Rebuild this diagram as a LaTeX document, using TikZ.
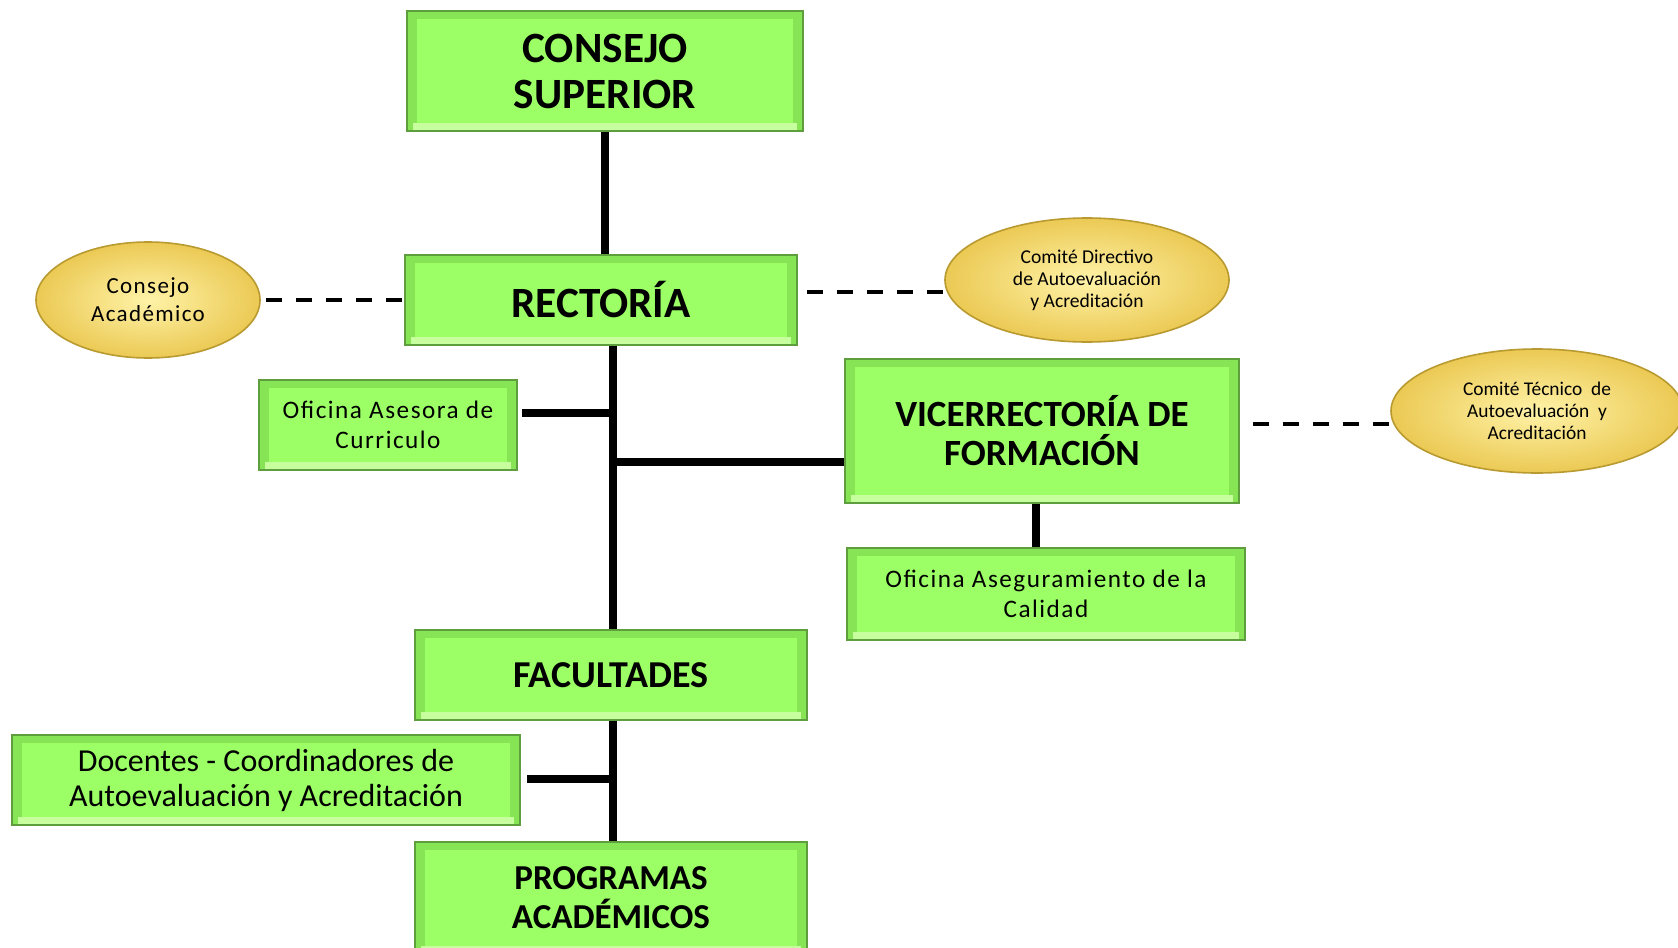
\documentclass[tikz,border=0pt]{standalone}
\usepackage{fontspec}
\setmainfont{Carlito}
\newfontfamily\spaced[LetterSpace=6]{Carlito}
\usetikzlibrary{shapes.geometric}
\definecolor{gin}{HTML}{9CFF66}
\definecolor{gedge}{HTML}{86E455}
\definecolor{glow}{HTML}{C8FF9E}
\definecolor{gbord}{HTML}{5E9E3E}
\definecolor{yin}{HTML}{FFF3A8}
\definecolor{yout}{HTML}{EBC954}
\definecolor{ybord}{HTML}{B89A30}
\tikzset{
  gbox/.style={draw=gbord, line width=0.8pt, fill=gedge, inner sep=0pt, align=center,
    path picture={
      \fill[glow] ([shift={(3pt,4pt)}]path picture bounding box.south west) rectangle ([shift={(-3pt,0pt)}]path picture bounding box.south east);
      \fill[gin] ([shift={(5pt,4pt)}]path picture bounding box.south west) rectangle ([shift={(-5pt,-4pt)}]path picture bounding box.north east);
    }},
  yell/.style={ellipse, draw=ybord, line width=0.8pt, inner color=yin, outer color=yout, inner sep=0pt, align=center},
  conn/.style={line width=3.6pt, black},
  dconn/.style={line width=1.8pt, black, dash pattern=on 8pt off 7pt},
  big/.style={font=\bfseries\fontsize{21.6}{23}\selectfont},
}
\begin{document}
\begin{tikzpicture}[x=0.5pt,y=-0.5pt]
\useasboundingbox (0,0) rectangle (1678,948);
% boxes
\node[gbox, big, minimum width=198pt, minimum height=60pt] (cs) at (605,71) {CONSEJO\\SUPERIOR};
\node[gbox, big, minimum width=196pt, minimum height=45pt] (rec) at (601,300) {RECTORÍA};
\node[gbox, font=\spaced\fontsize{12.6}{15}\selectfont, minimum width=129pt, minimum height=45pt] (oa) at (388,425) {Oficina Asesora de\\Curriculo};
\node[gbox, font=\bfseries\fontsize{18.5}{19.5}\selectfont, minimum width=197pt, minimum height=72pt] (vr) at (1042,431) {VICERRECTORÍA DE\\FORMACIÓN};
\node[gbox, font=\spaced\fontsize{12.6}{15}\selectfont, minimum width=199pt, minimum height=46pt] (oas) at (1046,594) {Oficina Aseguramiento de la\\Calidad};
\node[gbox, font=\bfseries\fontsize{19}{20}\selectfont, minimum width=196pt, minimum height=45pt] (fac) at (611,675) {FACULTADES};
\node[gbox, font=\fontsize{16}{17.5}\selectfont, minimum width=254pt, minimum height=45pt] (doc) at (266,780) {Docentes - Coordinadores de\\Autoevaluación y Acreditación};
\node[gbox, font=\bfseries\fontsize{17.5}{19.5}\selectfont, minimum width=196pt, minimum height=56pt] (prog) at (611,898) {PROGRAMAS\\ACADÉMICOS};
% ellipses
\node[yell, font=\spaced\fontsize{11.5}{14}\selectfont, minimum width=112pt, minimum height=58pt] (ca) at (148,300) {Consejo\\Académico};
\node[yell, font=\fontsize{9.8}{11}\selectfont, minimum width=142pt, minimum height=62pt] (cd) at (1087,280) {Comité Directivo\\de Autoevaluación\\y Acreditación};
\node[yell, font=\fontsize{9.7}{11}\selectfont, minimum width=146pt, minimum height=62pt] (ct) at (1537,411) {Comité Técnico\ \ de\\Autoevaluación\ \ y\\Acreditación};
% helper coordinates
\coordinate (t) at (613,0);
\coordinate (h1) at (0,413);
\coordinate (h2) at (0,462);
\coordinate (h3) at (0,779);
\coordinate (vx) at (1036,0);
\coordinate (d2) at (0,292);
\coordinate (d3) at (0,424);
% connectors
\draw[conn] (cs.south) -- (cs.south |- rec.north);
\draw[conn] (rec.south -| t) -- (fac.north -| t);
\draw[conn] (oa.east |- h1) ++(4,0) -- (t |- h1);
\draw[conn] (t |- h2) -- (vr.west |- h2);
\draw[conn] (vr.south -| vx) -- (oas.north -| vx);
\draw[conn] (fac.south -| t) -- (prog.north -| t);
\draw[conn] (doc.east |- h3) ++(6,0) -- (t |- h3);
\draw[dconn] (ca.east) ++(5,0) -- (rec.west);
\draw[dconn] (rec.east |- d2) ++(9,0) -- (cd.west |- d2);
\draw[dconn] (vr.east |- d3) ++(13,0) -- (ct.west |- d3);
\end{tikzpicture}
\end{document}
